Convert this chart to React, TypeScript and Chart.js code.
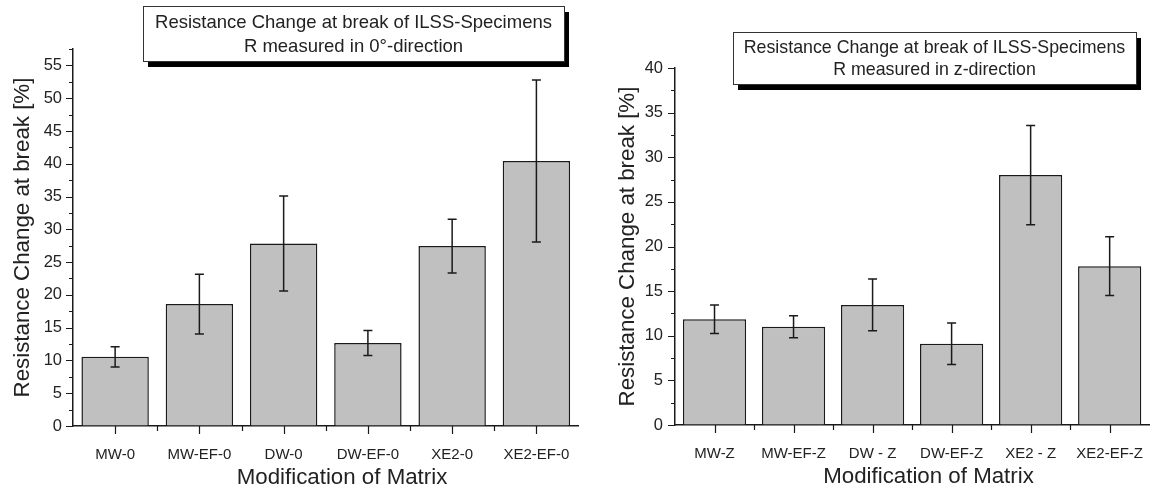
import { useEffect, useRef } from "react";
import { Chart, registerables } from "chart.js";

Chart.register(...registerables);

// ---------- data ----------
const categories0 = ["MW-0", "MW-EF-0", "DW-0", "DW-EF-0", "XE2-0", "XE2-EF-0"];
const values0 = [10.55, 18.6, 27.83, 12.65, 27.45, 40.42];
const errors0 = [1.55, 4.55, 7.25, 1.9, 4.1, 12.36];
const yTicks0 = [0, 5, 10, 15, 20, 25, 30, 35, 40, 45, 50, 55];
const yMinor0 = [2.5, 7.5, 12.5, 17.5, 22.5, 27.5, 32.5, 37.5, 42.5, 47.5, 52.5, 57.5];
const yMax0 = 57.5;
const title0 = ["Resistance Change at break of ILSS-Specimens", "R measured in 0°-direction"];

const categoriesZ = ["MW-Z", "MW-EF-Z", "DW - Z", "DW-EF-Z", "XE2 - Z", "XE2-EF-Z"];
const valuesZ = [11.85, 11.0, 13.45, 9.1, 28.0, 17.8];
const errorsZ = [1.6, 1.23, 2.9, 2.33, 5.55, 3.3];
const yTicksZ = [0, 5, 10, 15, 20, 25, 30, 35, 40];
const yMinorZ = [2.5, 7.5, 12.5, 17.5, 22.5, 27.5, 32.5, 37.5];
const yMaxZ = 40;
const titleZ = ["Resistance Change at break of ILSS-Specimens", "R measured in z-direction"];

const xTitle = "Modification of Matrix";
const yTitle = "Resistance Change at break [%]";

const FONT = "'Liberation Sans', Arial, Helvetica, sans-serif";
const INK = "#1a1a1a";
const TEXT = "#222222";

type PanelProps = {
  left: number;
  width: number;
  categories: string[];
  values: number[];
  errors: number[];
  yTicks: number[];
  yMinor: number[];
  yMax: number;
  title: string[];
  padTop: number;
  padRight: number;
  yAxisWidth: number;
  xAxisHeight: number;
  yTitlePad: number;
  yTickPad: number;
  xTitlePos: { x: number; y: number };
  box: { x: number; y: number; w: number; h: number; font: number; l1: number; l2: number };
};

function makeDecor(p: PanelProps) {
  return {
    id: "decor",
    afterDatasetsDraw(chart: any) {
      const ctx = chart.ctx as CanvasRenderingContext2D;
      const xs = chart.scales.x;
      const ys = chart.scales.y;
      const ds = chart.data.datasets[0];
      ctx.save();
      ctx.strokeStyle = INK;
      ctx.lineWidth = 1.5;
      // error bars
      p.errors.forEach((e, i) => {
        const v = ds.data[i] as number;
        const px = xs.getPixelForValue(i);
        const top = ys.getPixelForValue(v + e);
        const bot = ys.getPixelForValue(v - e);
        ctx.beginPath();
        ctx.moveTo(px, top);
        ctx.lineTo(px, bot);
        ctx.moveTo(px - 4.5, top);
        ctx.lineTo(px + 4.5, top);
        ctx.moveTo(px - 4.5, bot);
        ctx.lineTo(px + 4.5, bot);
        ctx.stroke();
      });
      // y ticks
      const ax = ys.right;
      ctx.lineWidth = 1.2;
      ctx.beginPath();
      p.yTicks.forEach((v) => {
        const py = Math.round(ys.getPixelForValue(v)) + 0.5;
        ctx.moveTo(ax - 7, py);
        ctx.lineTo(ax, py);
      });
      p.yMinor.forEach((v) => {
        const py = Math.round(ys.getPixelForValue(v)) + 0.5;
        ctx.moveTo(ax - 4, py);
        ctx.lineTo(ax, py);
      });
      // x ticks
      const ay = xs.top;
      p.categories.forEach((_, i) => {
        const px = Math.round(xs.getPixelForValue(i)) + 0.5;
        ctx.moveTo(px, ay);
        ctx.lineTo(px, ay + 8);
        if (i > 0) {
          const bx = Math.round(xs.getPixelForValue(i - 0.5)) + 0.5;
          ctx.moveTo(bx, ay);
          ctx.lineTo(bx, ay + 5);
        }
      });
      ctx.stroke();
      ctx.restore();
    },
    afterDraw(chart: any) {
      const ctx = chart.ctx as CanvasRenderingContext2D;
      const b = p.box;
      ctx.save();
      // x axis title
      ctx.fillStyle = TEXT;
      ctx.font = `22.3px ${FONT}`;
      ctx.textAlign = "center";
      ctx.textBaseline = "middle";
      ctx.fillText(xTitle, p.xTitlePos.x, p.xTitlePos.y);
      // title box
      ctx.fillStyle = "#000";
      ctx.fillRect(b.x + 5, b.y + 6, b.w, b.h);
      ctx.fillStyle = "#fff";
      ctx.fillRect(b.x, b.y, b.w, b.h);
      ctx.strokeStyle = "#333";
      ctx.lineWidth = 1;
      ctx.strokeRect(b.x + 0.5, b.y + 0.5, b.w, b.h);
      ctx.fillStyle = TEXT;
      ctx.font = `${b.font}px ${FONT}`;
      ctx.fillText(p.title[0], b.x + b.w / 2, b.l1);
      ctx.fillText(p.title[1], b.x + b.w / 2, b.l2);
      ctx.restore();
    },
  };
}

function Panel(p: PanelProps) {
  const ref = useRef<HTMLCanvasElement | null>(null);
  useEffect(() => {
    if (!ref.current) return;
    const chart = new Chart(ref.current, {
      type: "bar",
      data: {
        labels: p.categories,
        datasets: [
          {
            data: p.values,
            backgroundColor: "#c0c0c0",
            borderColor: INK,
            borderWidth: 1.5,
            barPercentage: 0.8,
            categoryPercentage: 1,
          },
        ],
      },
      options: {
        responsive: false,
        animation: false,
        layout: { padding: { top: p.padTop, right: p.padRight, left: 0, bottom: 0 } },
        plugins: { legend: { display: false }, tooltip: { enabled: false }, title: { display: false } },
        scales: {
          x: {
            ticks: { padding: 20, color: TEXT, font: { size: 15, family: FONT }, autoSkip: false, maxRotation: 0 },
            grid: { display: true, drawOnChartArea: false, drawTicks: false },
            border: { display: true, color: INK, width: 1.5 },
            title: { display: false },
            afterFit: (s: any) => {
              s.height = p.xAxisHeight;
            },
          },
          y: {
            min: 0,
            max: p.yMax,
            afterBuildTicks: (s: any) => {
              s.ticks = p.yTicks.map((v) => ({ value: v }));
            },
            ticks: { padding: p.yTickPad, color: TEXT, font: { size: 16.5, family: FONT } },
            grid: { display: true, drawOnChartArea: false, drawTicks: false },
            border: { display: true, color: INK, width: 1.5 },
            title: { display: true, text: yTitle, color: TEXT, font: { size: 22.3, family: FONT }, padding: { top: p.yTitlePad, bottom: 0 } },
            afterFit: (s: any) => {
              s.width = p.yAxisWidth;
            },
          },
        },
      } as any,
      plugins: [makeDecor(p)],
    });
    return () => chart.destroy();
  }, []);
  return (
    <div style={{ position: "absolute", left: p.left, top: 0, width: p.width, height: 490 }}>
      <canvas ref={ref} width={p.width} height={490} style={{ display: "block" }} />
    </div>
  );
}

export default function App() {
  return (
    <div style={{ position: "absolute", left: 0, top: 0, width: 1163, height: 490, background: "#fff" }}>
      <Panel
        left={0}
        width={590}
        categories={categories0}
        values={values0}
        errors={errors0}
        yTicks={yTicks0}
        yMinor={yMinor0}
        yMax={yMax0}
        title={title0}
        padTop={49}
        padRight={8}
        yAxisWidth={73}
        xAxisHeight={64}
        yTitlePad={9}
        yTickPad={11}
        xTitlePos={{ x: 342, y: 478 }}
        box={{ x: 143, y: 6, w: 421, h: 55, font: 18.5, l1: 23, l2: 46.5 }}
      />
      <Panel
        left={590}
        width={573}
        categories={categoriesZ}
        values={valuesZ}
        errors={errorsZ}
        yTicks={yTicksZ}
        yMinor={yMinorZ}
        yMax={yMaxZ}
        title={titleZ}
        padTop={68}
        padRight={0}
        yAxisWidth={85}
        xAxisHeight={65}
        yTitlePad={24}
        yTickPad={12}
        xTitlePos={{ x: 338.5, y: 477 }}
        box={{ x: 143, y: 32, w: 403, h: 52, font: 17.8, l1: 48.3, l2: 70 }}
      />
    </div>
  );
}
